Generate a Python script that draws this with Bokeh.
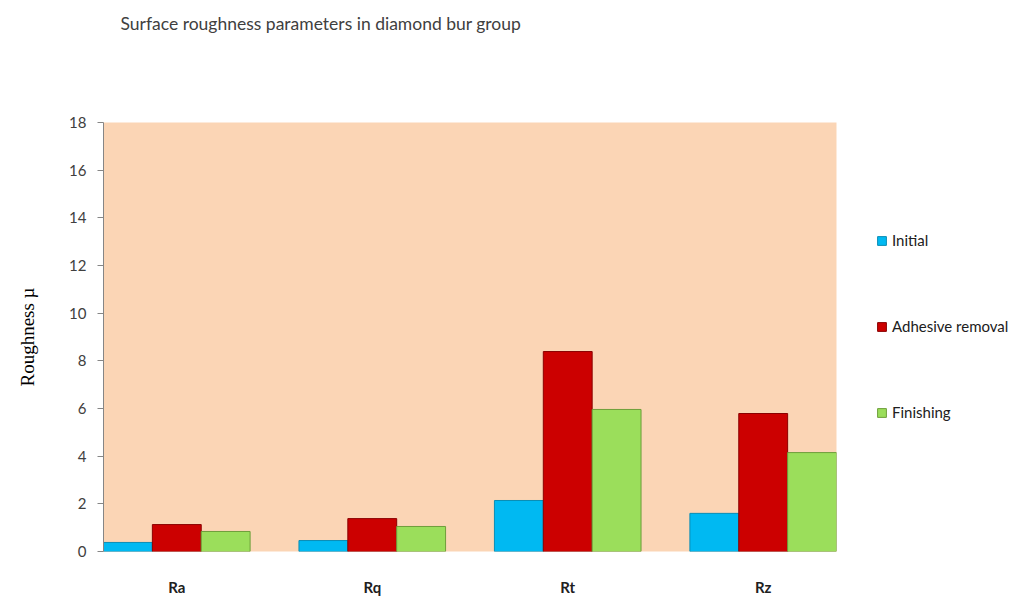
from bokeh.plotting import figure
from bokeh.models import Range1d, FixedTicker, Legend, LegendItem, ColumnDataSource
from bokeh.embed import file_html
from bokeh.resources import INLINE
import numpy as np

categories = ["Ra", "Rq", "Rt", "Rz"]
series = ["Initial", "Adhesive removal", "Finishing"]
initial = [0.38, 0.46, 2.14, 1.60]
adhesive = [1.13, 1.38, 8.39, 5.79]
finishing = [0.84, 1.05, 5.96, 4.15]
y_ticks = [0, 2, 4, 6, 8, 10, 12, 14, 16, 18]
title_text = "Surface roughness parameters in diamond bur group"

colors = ["#00B9F2", "#CC0000", "#9BDE5B"]
borders = ["#0A8DB5", "#8A0000", "#6E9E3A"]
offsets = [-0.25, 0.0, 0.25]

p = figure(frame_width=733, frame_height=429, output_backend="svg", toolbar_location=None,
           x_range=Range1d(-0.375, 3.375), y_range=Range1d(0, 18),
           min_border_left=103, min_border_right=10, min_border_top=122,
           min_border_bottom=47,
           title=title_text + "\n\n\n\n")
p.background_fill_color = "#FBD5B5"
p.border_fill_color = "white"
p.outline_line_color = None
p.grid.grid_line_color = None

p.title.text_font = "Lato"
p.title.text_font_size = "17.5px"
p.title.text_font_style = "normal"
p.title.text_color = "#404040"
p.title.offset = 17
p.title.standoff = 0
p.title.text_line_height = 1.05

idx = np.arange(len(categories))
items = []
for vals, name, c, b, off in zip([initial, adhesive, finishing], series, colors, borders, offsets):
    src = ColumnDataSource(dict(x=idx + off, top=vals))
    r = p.vbar(x="x", top="top", bottom=0, width=0.25, source=src,
               fill_color=c, line_color=b, line_width=1)
    items.append(LegendItem(label=name, renderers=[r]))

# y axis
p.yaxis.ticker = FixedTicker(ticks=y_ticks)
p.yaxis.axis_line_color = "#868686"
p.yaxis.major_tick_line_color = "#868686"
p.yaxis.major_tick_in = 0
p.yaxis.major_tick_out = 6
p.yaxis.minor_tick_line_color = None
p.yaxis.major_label_text_font = "Lato"
p.yaxis.major_label_text_font_size = "15px"
p.yaxis.major_label_text_color = "#404040"
p.yaxis.major_label_standoff = 11
p.yaxis.axis_label = "Roughness µ"
p.yaxis.axis_label_text_font = "Liberation Serif"
p.yaxis.axis_label_text_font_style = "normal"
p.yaxis.axis_label_text_font_size = "19px"
p.yaxis.axis_label_text_color = "#000000"
p.yaxis.axis_label_standoff = 28

# x axis
p.xaxis.ticker = FixedTicker(ticks=list(idx))
p.xaxis.major_label_overrides = {int(i): c for i, c in zip(idx, categories)}
p.xaxis.axis_line_color = None
p.xaxis.major_tick_line_color = None
p.xaxis.minor_tick_line_color = None
p.xaxis.major_label_text_font = "Lato"
p.xaxis.major_label_text_font_style = "bold"
p.xaxis.major_label_text_font_size = "15px"
p.xaxis.major_label_text_color = "#202020"
p.xaxis.major_label_standoff = 20

legend = Legend(items=items, location=(40, 130), orientation="vertical",
                spacing=68, glyph_width=11, glyph_height=11, label_text_font="Lato",
                label_text_font_size="15px", label_text_color="#202020",
                border_line_color=None, background_fill_alpha=0, margin=0, padding=2)
p.add_layout(legend, "right")

open("out.html", "w").write(file_html(p, INLINE))
